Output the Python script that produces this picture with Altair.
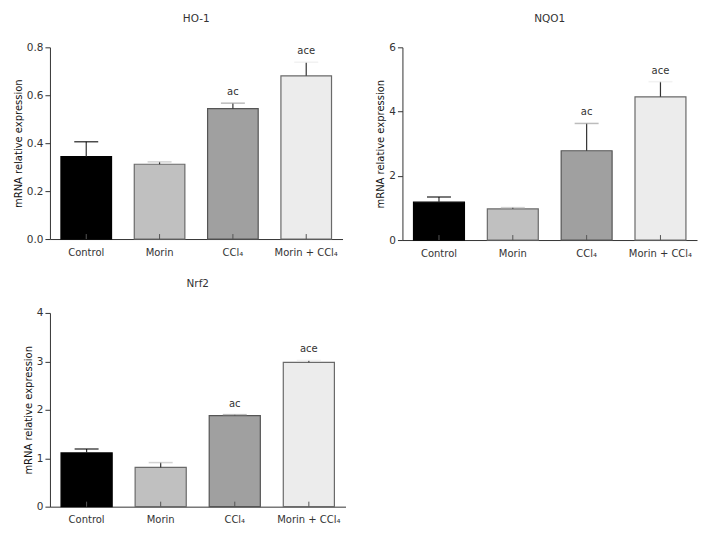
import altair as alt
import pandas as pd

groups = ["Control", "Morin", "CCl₄", "Morin + CCl₄"]
sig = ["", "", "ac", "ace"]

ho1_mean = [0.344, 0.312, 0.544, 0.681]
ho1_upper = [0.406, 0.322, 0.567, 0.738]
ho1_ticks = [0.0, 0.2, 0.4, 0.6, 0.8]

nqo1_mean = [1.18, 0.97, 2.78, 4.46]
nqo1_upper = [1.34, 1.01, 3.63, 4.93]
nqo1_ticks = [0, 2, 4, 6]

nrf2_mean = [1.11, 0.81, 1.88, 2.98]
nrf2_upper = [1.19, 0.91, 1.90, 3.02]
nrf2_ticks = [0, 1, 2, 3, 4]

fills = ["#000000", "#c0c0c0", "#a0a0a0", "#ececec"]
strokes = ["#000000", "#6a6a6a", "#555555", "#6a6a6a"]
caps = ["#333333", "#333333", "#333333", "#999999"]

FONT = "DejaVu Sans"
TXT = "#333333"


def panel(title, mean, upper, ticks, fmt, w, h):
    df = pd.DataFrame({"group": groups, "mean": mean, "upper": upper, "sig": sig})
    xs = alt.Scale(domain=groups, paddingInner=0.31, paddingOuter=0.15)
    x = alt.X("group:N", sort=groups, scale=xs,
              axis=alt.Axis(title=None, labelAngle=0, ticks=False, labelPadding=8,
                            labelFontSize=10, labelColor=TXT, domainColor="#333333",
                            labelFont=FONT))
    y = alt.Y("mean:Q", scale=alt.Scale(domain=[ticks[0], ticks[-1]], nice=False),
              axis=alt.Axis(title="mRNA relative expression", values=ticks, format=fmt,
                            grid=False, tickSize=5, tickColor="#333333",
                            domainColor="#333333", labelFontSize=10.5, labelColor=TXT,
                            labelFont=FONT, titleFont=FONT, titleFontSize=10,
                            titleFontWeight="normal", titleColor="#111111",
                            labelPadding=2, titlePadding=3))
    base = alt.Chart(df)
    bars = base.mark_bar(strokeWidth=1.2).encode(
        x=x, y=y,
        color=alt.Color("group:N", scale=alt.Scale(domain=groups, range=fills), legend=None),
        stroke=alt.Stroke("group:N", scale=alt.Scale(domain=groups, range=strokes), legend=None),
    )
    err = base.mark_rule(color="#333333", strokeWidth=1.2).encode(
        x=alt.X("group:N", sort=groups), y="mean:Q", y2="upper:Q")
    cap = base.mark_tick(thickness=1.5, size=24).encode(
        x=alt.X("group:N", sort=groups), y="upper:Q",
        color=alt.Color("group:N", scale=alt.Scale(domain=groups, range=caps), legend=None))
    txt = base.mark_text(dy=-6, baseline="bottom", fontSize=10, color=TXT, font=FONT).encode(
        x=alt.X("group:N", sort=groups), y="upper:Q", text="sig:N")
    inner = base.mark_rule(color="#555555").encode(
        x=alt.X("group:N", sort=groups), y=alt.value(h), y2=alt.value(h - 5))
    return alt.layer(bars, err, cap, txt, inner).properties(
        width=w, height=h,
        title=alt.TitleParams(title, fontSize=10.5, fontWeight="normal", color=TXT,
                              font=FONT, frame="group", offset=18),
    )


p1 = panel("HO-1", ho1_mean, ho1_upper, ho1_ticks, ".1f", 293, 192)
p2 = panel("NQO1", nqo1_mean, nqo1_upper, nqo1_ticks, "d", 295, 193)
p3 = panel("Nrf2", nrf2_mean, nrf2_upper, nrf2_ticks, "d", 296, 194)

chart = alt.vconcat(
    alt.hconcat(p1, p2, spacing=33),
    p3,
    spacing=21,
).resolve_scale(color="independent").configure(
    font=FONT, background="white", view=alt.ViewConfig(stroke=None)
)

chart.save("out.html", embed_options={"renderer": "svg", "actions": False})
